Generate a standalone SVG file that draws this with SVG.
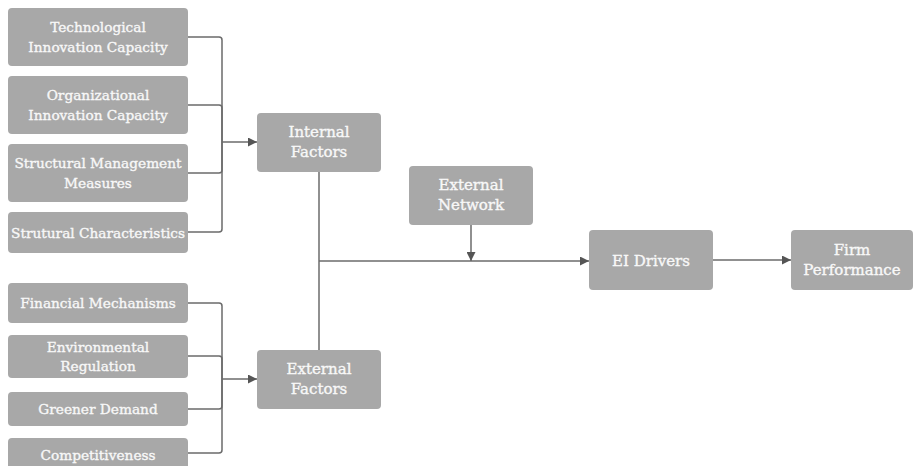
<svg xmlns="http://www.w3.org/2000/svg" width="914" height="466" viewBox="0 0 914 466">
<style>
.box{fill:#a8a8a8;}
.t{font-family:"DejaVu Serif","Liberation Serif",serif;font-size:13.7px;fill:#f8f8f8;stroke:#f8f8f8;stroke-width:0.35;text-anchor:middle;}
.b{font-size:15px;}
.c{fill:none;stroke:#6b6b6b;stroke-width:1.5;}
</style>
<defs>
<marker id="ah" viewBox="0 0 10 10" refX="10" refY="5" markerWidth="10" markerHeight="9" markerUnits="userSpaceOnUse" orient="auto">
<path d="M0,0 L10,5 L0,10 z" fill="#555"/>
</marker>
</defs>
<rect width="914" height="466" fill="#ffffff"/>
<g id="connectors">
<path class="c" d="M188,37 H219 Q222,37 222,40 V142"/>
<path class="c" d="M188,105 H219 Q222,105 222,108 V142"/>
<path class="c" d="M188,173 H219 Q222,173 222,170 V142"/>
<path class="c" d="M188,232 H219 Q222,232 222,229 V142"/>
<path class="c" d="M222,142 H257" marker-end="url(#ah)"/>
<path class="c" d="M188,303 H219 Q222,303 222,306 V379"/>
<path class="c" d="M188,356 H219 Q222,356 222,359 V379"/>
<path class="c" d="M188,409 H219 Q222,409 222,406 V379"/>
<path class="c" d="M188,453 H219 Q222,453 222,450 V379"/>
<path class="c" d="M222,379 H257" marker-end="url(#ah)"/>
<path class="c" d="M319,172 V350"/>
<path class="c" d="M319,261 H589" marker-end="url(#ah)"/>
<path class="c" d="M471,225 V261" marker-end="url(#ah)"/>
<path class="c" d="M713,260 H791" marker-end="url(#ah)"/>
</g>
<g id="n-tech"><rect class="box" x="8" y="8" width="180" height="58" rx="4"/><text class="t" x="98" y="32">Technological</text><text class="t" x="98" y="51.5">Innovation Capacity</text></g>
<g id="n-org"><rect class="box" x="8" y="76" width="180" height="58" rx="4"/><text class="t" x="98" y="100">Organizational</text><text class="t" x="98" y="119.5">Innovation Capacity</text></g>
<g id="n-sm"><rect class="box" x="8" y="144" width="180" height="58" rx="4"/><text class="t" x="98" y="168">Structural Management</text><text class="t" x="98" y="187.5">Measures</text></g>
<g id="n-sc"><rect class="box" x="8" y="212" width="180" height="41" rx="4"/><text class="t" x="98" y="237.5">Strutural Characteristics</text></g>
<g id="n-fm"><rect class="box" x="8" y="283" width="180" height="40" rx="4"/><text class="t" x="98" y="308">Financial Mechanisms</text></g>
<g id="n-er"><rect class="box" x="8" y="335" width="180" height="43" rx="4"/><text class="t" x="98" y="351.5">Environmental</text><text class="t" x="98" y="371">Regulation</text></g>
<g id="n-gd"><rect class="box" x="8" y="392" width="180" height="34" rx="4"/><text class="t" x="98" y="414">Greener Demand</text></g>
<g id="n-comp"><rect class="box" x="8" y="438" width="180" height="34" rx="4"/><text class="t" x="98" y="460">Competitiveness</text></g>
<g id="n-int"><rect class="box" x="257" y="113" width="124" height="59" rx="4"/><text class="t b" x="319" y="137">Internal</text><text class="t b" x="319" y="157">Factors</text></g>
<g id="n-ext"><rect class="box" x="257" y="350" width="124" height="59" rx="4"/><text class="t b" x="319" y="374">External</text><text class="t b" x="319" y="394">Factors</text></g>
<g id="n-net"><rect class="box" x="409" y="166" width="124" height="59" rx="4"/><text class="t b" x="471" y="190">External</text><text class="t b" x="471" y="210">Network</text></g>
<g id="n-ei"><rect class="box" x="589" y="230" width="124" height="60" rx="4"/><text class="t b" x="651" y="265.5">EI Drivers</text></g>
<g id="n-fp"><rect class="box" x="791" y="230" width="122" height="60" rx="4"/><text class="t b" x="852" y="255">Firm</text><text class="t b" x="852" y="275">Performance</text></g>
</svg>
